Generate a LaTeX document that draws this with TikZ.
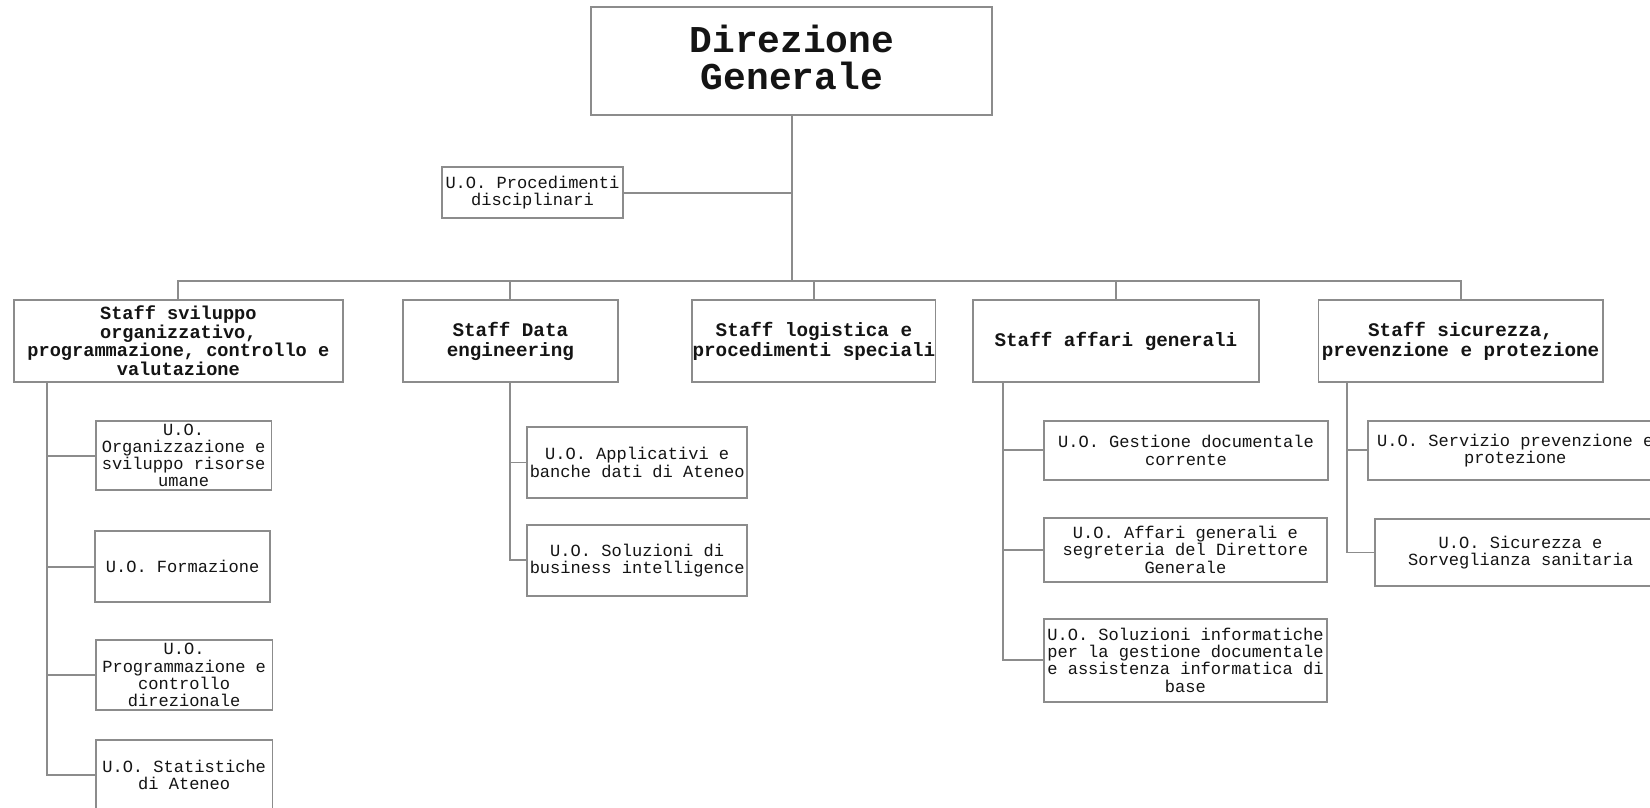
\documentclass[tikz,border=0pt]{standalone}
\usepackage{fontspec}
\setmainfont{Liberation Mono}
\definecolor{linegray}{RGB}{140,140,140}
\definecolor{txt}{RGB}{20,20,20}
\tikzset{
  box/.style={draw=linegray, line width=1.8pt, fill=white, inner sep=0pt, align=center, text=txt},
  ubox/.style={box, font=\fontsize{16.2}{16.3}\selectfont},
  sbox/.style={box, font=\fontsize{18.3}{19}\selectfont\bfseries},
  sboxs/.style={box, font=\fontsize{17.7}{17.6}\selectfont\bfseries},
  tbox/.style={box},
  ttext/.style={inner sep=0pt, align=center, text=txt, font=\fontsize{36}{35.5}\selectfont\bfseries},
  conn/.style={draw=linegray, line width=1.8pt}
}
\begin{document}
\begin{tikzpicture}[x=1pt,y=-1pt]
\useasboundingbox (0,0) rectangle (1568,767);
\clip (0,0) rectangle (1568,767);
% top
\node[tbox, minimum width=381pt, minimum height=102pt] (dg) at (752.5,58) {};
\node[ttext] (dgt) at ([yshift=3.5pt]dg.center) {Direzione\\Generale};
\node[ubox, minimum width=172pt, minimum height=48pt] (pd) at (506,183) {U.O. Procedimenti\\disciplinari};
% staff row
\node[sboxs, minimum width=313pt, minimum height=78pt] (s1) at (169.5,324) {Staff sviluppo\\organizzativo,\\programmazione, controllo e\\valutazione};
\node[sbox, minimum width=204pt, minimum height=78pt] (s2) at (485,324) {Staff Data\\engineering};
\node[sbox, minimum width=231pt, minimum height=78pt] (s3) at (773.5,324) {Staff logistica e\\procedimenti speciali};
\node[sbox, minimum width=271pt, minimum height=78pt] (s4) at (1060.5,324) {Staff affari generali};
\node[sbox, minimum width=270pt, minimum height=78pt] (s5) at (1388,324) {Staff sicurezza,\\prevenzione e protezione};
% staff 1 children
\node[ubox, minimum width=167pt, minimum height=66pt] (c1) at (174.5,433) {U.O.\\Organizzazione e\\sviluppo risorse\\umane};
\node[ubox, minimum width=167pt, minimum height=67pt] (c2) at (173.5,538.5) {U.O. Formazione};
\node[ubox, minimum width=168pt, minimum height=67pt] (c3) at (175,641.5) {U.O.\\Programmazione e\\controllo\\direzionale};
\node[ubox, minimum width=168pt, minimum height=67pt] (c4) at (175,736.5) {U.O. Statistiche\\di Ateneo};
% staff 2 children
\node[ubox, minimum width=209pt, minimum height=67pt] (d1) at (605.5,439.5) {U.O. Applicativi e\\banche dati di Ateneo};
\node[ubox, minimum width=209pt, minimum height=67pt] (d2) at (605.5,532.5) {U.O. Soluzioni di\\business intelligence};
% staff 4 children
\node[ubox, minimum width=270pt, minimum height=56pt] (e1) at (1127,428) {U.O. Gestione documentale\\corrente};
\node[ubox, minimum width=269pt, minimum height=61pt] (e2) at (1126.5,522.5) {U.O. Affari generali e\\segreteria del Direttore\\Generale};
\node[ubox, minimum width=269pt, minimum height=79pt] (e3) at (1126.5,627.5) {U.O. Soluzioni informatiche\\per la gestione documentale\\e assistenza informatica di\\base};
% staff 5 children
\node[ubox, minimum width=280pt, minimum height=56pt] (f1) at (1440,428) {U.O. Servizio prevenzione e\\protezione};
\node[ubox, minimum width=276pt, minimum height=64pt] (f2) at (1445,525) {U.O. Sicurezza e\\Sorveglianza sanitaria};
% connectors
\coordinate (bus) at (752.5,267);
\draw[conn] (dg.south) -- (bus);
\draw[conn] (pd.east) -- (pd.east -| dg.south);
\draw[conn] (s1.north) -- (s1.north |- bus) -- (s5.north |- bus) -- (s5.north);
\draw[conn] (s2.north) -- (s2.north |- bus);
\draw[conn] (s3.north) -- (s3.north |- bus);
\draw[conn] (s4.north) -- (s4.north |- bus);
% trunk staff 1
\coordinate (t1) at (45,737);
\draw[conn] (s1.south west -| t1) -- (t1 |- c4.west) -- (c4.west);
\draw[conn] (c1.west) -- (c1.west -| t1);
\draw[conn] (c2.west) -- (c2.west -| t1);
\draw[conn] (c3.west) -- (c3.west -| t1);
% trunk staff 2
\draw[conn] (s2.south) -- (s2.south |- d2.west) -- (d2.west);
\draw[conn] (d1.west) -- (d1.west -| s2.south);
% trunk staff 4
\coordinate (t4) at (953,628);
\draw[conn] (s4.south west -| t4) -- (t4 |- e3.west) -- (e3.west);
\draw[conn] (e1.west) -- (e1.west -| t4);
\draw[conn] (e2.west) -- (e2.west -| t4);
% trunk staff 5
\coordinate (t5) at (1280,525);
\draw[conn] (s5.south west -| t5) -- (t5 |- f2.west) -- (f2.west);
\draw[conn] (f1.west) -- (f1.west -| t5);
\end{tikzpicture}
\end{document}
